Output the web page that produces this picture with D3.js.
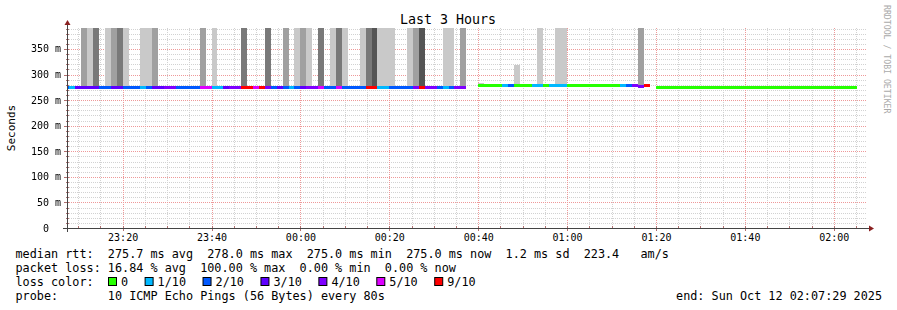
<!DOCTYPE html>
<html>
<head>
<meta charset="utf-8">
<script src="https://cdn.jsdelivr.net/npm/d3@7"></script>
<style>
  html, body { margin: 0; padding: 0; background: #fff; }
  svg { display: block; font-family: "DejaVu Sans Mono", monospace; }
  text { white-space: pre; }
</style>
</head>
<body>
<svg id="chart" width="897" height="310"></svg>
<script>
// time window of the graph, and the 80s steps of the rrd
const chartStart = "2025-10-11T23:07:29Z";
const chartEnd = "2025-10-12T02:07:29Z";
const firstStep = "2025-10-11T23:06:40Z";
const stepSeconds = 80;

// lost pings out of 10 per step (10 = nothing came back)
const lossCount = [
  2, 1, 3, 3, 3, 3, 2, 2, 3, 3,
  2, 2, 2, 1, 2, 3, 3, 4, 4, 2,
  2, 2, 2, 5, 5, 1, 1, 3, 4, 4,
  9, 9, 5, 9, 4, 2, 3, 2, 1, 2,
  3, 4, 4, 5, 2, 2, 5, 2, 2, 2,
  2, 9, 9, 1, 1, 2, 2, 2, 2, 4,
  9, 4, 4, 2, 1, 2, 4, 4, 10, 10,
  0, 0, 0, 0, 1, 2, 0, 0, 0, 1,
  1, 0, 1, 1, 1, 0, 0, 0, 0, 0,
  0, 0, 0, 0, 1, 2, 4, 4, 9, 10,
  0, 0, 0, 0, 0, 0, 0, 0, 0, 0,
  0, 0, 0, 0, 0, 0, 0, 0, 0, 0,
  0, 0, 0, 0, 0, 0, 0, 0, 0, 0,
  0, 0, 0, 0
];

// median rtt per step, ms
const medianMs = [
  275, 275, 275, 275, 275, 275, 275, 275, 275, 275,
  275, 275, 275, 275, 275, 275, 275, 275, 275, 275,
  275, 275, 275, 275, 275, 275, 275, 275, 275, 275,
  275, 275, 275, 275, 275, 275, 275, 275, 275, 275,
  275, 275, 275, 275, 275, 275, 275, 275, 275, 275,
  275, 275, 275, 275, 275, 275, 275, 275, 275, 275,
  275, 275, 275, 275, 275, 275, 275, 275, null, null,
  278, 278, 278, 278, 278, 278, 278, 278, 278, 278,
  278, 278, 278, 278, 278, 278, 278, 278, 278, 278,
  278, 278, 278, 278, 278, 278, 278, 277, 278, null,
  275, 275, 275, 275, 275, 275, 275, 275, 275, 275,
  275, 275, 275, 275, 275, 275, 275, 275, 275, 275,
  275, 275, 275, 275, 275, 275, 275, 275, 275, 275,
  275, 275, 275, 275
];

// top of the smoke per step, ms (runs off the top when large)
const smokeTopMs = [
  null, null, null, 420, 420, 420, null, 420, 420, 420,
  420, null, null, 420, 420, 420, null, null, null, null,
  null, null, null, 420, null, 420, null, null, null, null,
  420, null, null, null, 420, null, null, 420, null, 420,
  420, 420, null, 420, null, 420, 420, 420, null, null,
  420, 420, 420, 420, 420, 420, null, null, 420, 420,
  420, null, null, null, 420, 420, null, 420, null, null,
  283, null, null, null, null, null, 319, null, null, null,
  420, null, null, 420, 420, null, null, 282, null, null,
  null, null, null, null, null, null, null, 420, null, null,
  null, null, null, null, null, null, null, null, null, null,
  null, null, null, null, null, null, null, null, null, null,
  null, null, null, null, null, null, null, null, null, null,
  null, null, null, null
];

// smoke shade per step: 1 light .. 4 darkest
const smokeShade = [
  0, 0, 0, 2, 1, 3, 0, 1, 2, 3,
  1, 0, 0, 1, 1, 2, 0, 0, 0, 0,
  0, 0, 0, 2, 0, 1, 0, 0, 0, 0,
  3, 0, 0, 0, 3, 0, 0, 2, 0, 1,
  2, 1, 0, 3, 0, 1, 3, 1, 0, 0,
  1, 3, 4, 1, 1, 1, 0, 0, 1, 2,
  4, 0, 0, 0, 1, 1, 0, 2, 0, 0,
  1, 0, 0, 0, 0, 0, 1, 0, 0, 0,
  1, 0, 0, 1, 1, 0, 0, 1, 0, 0,
  0, 0, 0, 0, 0, 0, 0, 2, 0, 0,
  0, 0, 0, 0, 0, 0, 0, 0, 0, 0,
  0, 0, 0, 0, 0, 0, 0, 0, 0, 0,
  0, 0, 0, 0, 0, 0, 0, 0, 0, 0,
  0, 0, 0, 0
];
const shadeColors = [null, '#c9c9c9', '#a0a0a0', '#797979', '#555555'];

// loss legend
const lossThresholds = [0, 1, 2, 3, 4, 5, 9];
const lossLabels = ['0', '1/10', '2/10', '3/10', '4/10', '5/10', '9/10'];
const lossColors = ['#26ff00', '#00b8ff', '#0059ff', '#5e00ff', '#7e00ff', '#dd00ff', '#ff0000'];

// y ticks (ms) and their labels
const yMajorTicks = [0, 50, 100, 150, 200, 250, 300, 350];
const yTickLabels = ['0  ', '50 m', '100 m', '150 m', '200 m', '250 m', '300 m', '350 m'];

// legend text
const titleText = 'Last 3 Hours';
const yLabel = 'Seconds';
const rttLine = 'median rtt:  275.7 ms avg  278.0 ms max  275.0 ms min  275.0 ms now  1.2 ms sd  223.4   am/s';
const lossLine = 'packet loss: 16.84 % avg  100.00 % max  0.00 % min  0.00 % now';
const lossColorLabel = 'loss color:';
const probeLine = 'probe:       10 ICMP Echo Pings (56 Bytes) every 80s';
const endLine = 'end: Sun Oct 12 02:07:29 2025';
const watermark = 'RRDTOOL / TOBI OETIKER';

const svg = d3.select('#chart');
const plot = {left: 67, right: 867, top: 28, bottom: 228};

const x = d3.scaleUtc()
  .domain([new Date(chartStart), new Date(chartEnd)])
  .range([plot.left, plot.right]);
const y = d3.scaleLinear()
  .domain([0, 391])
  .range([plot.bottom, plot.top]);

let t0 = new Date(firstStep).getTime();
let steps = lossCount.map((loss, i) => ({
  start: new Date(t0 + i * stepSeconds * 1000),
  end: new Date(t0 + (i + 1) * stepSeconds * 1000),
  loss: loss,
  median: medianMs[i],
  smokeTop: smokeTopMs[i],
  shade: smokeShade[i]
}));

let lossColor = (loss) => {
  let idx = 0;
  lossThresholds.forEach((t, i) => { if (loss >= t) idx = i; });
  return lossColors[idx];
};

svg.append('rect').attr('width', 897).attr('height', 310).attr('fill', '#fff');

let defs = svg.append('defs');
defs.append('clipPath').attr('id', 'plotclip')
  .append('rect')
  .attr('x', plot.left + 1).attr('y', plot.top)
  .attr('width', plot.right - plot.left).attr('height', plot.bottom - plot.top);
// no-op filter: forces grey-scale text antialiasing
defs.append('filter').attr('id', 'flat')
  .append('feOffset').attr('dx', 0).attr('dy', 0);

// grid
let crisp = (v) => Math.round(v) + 0.5;
let grid = svg.append('g').attr('fill', 'none').attr('stroke-dasharray', '1,1');

grid.selectAll('.hmin')
  .data(d3.range(10, 391, 10).filter(v => v % 50 !== 0))
  .join('line')
  .attr('x1', plot.left).attr('x2', plot.right)
  .attr('y1', d => crisp(y(d))).attr('y2', d => crisp(y(d)))
  .attr('stroke', '#d2d2d2');

grid.selectAll('.vmin')
  .data(x.ticks(d3.utcMinute.every(5)).filter(d => d.getUTCMinutes() % 20 !== 0))
  .join('line')
  .attr('x1', d => crisp(x(d))).attr('x2', d => crisp(x(d)))
  .attr('y1', plot.top).attr('y2', plot.bottom)
  .attr('stroke', '#d2d2d2');

grid.selectAll('.hmaj')
  .data(yMajorTicks.filter(v => v > 0))
  .join('line')
  .attr('x1', plot.left).attr('x2', plot.right)
  .attr('y1', d => crisp(y(d))).attr('y2', d => crisp(y(d)))
  .attr('stroke', '#ee9999');

grid.selectAll('.vmaj')
  .data(x.ticks(d3.utcMinute.every(20)))
  .join('line')
  .attr('x1', d => crisp(x(d))).attr('x2', d => crisp(x(d)))
  .attr('y1', plot.top).attr('y2', plot.bottom)
  .attr('stroke', '#ee9999');

// smoke
svg.append('g')
  .attr('clip-path', 'url(#plotclip)')
  .selectAll('rect')
  .data(steps.filter(d => d.smokeTop !== null && d.median !== null))
  .join('rect')
  .attr('x', d => x(d.start))
  .attr('width', d => x(d.end) - x(d.start))
  .attr('y', d => y(d.smokeTop))
  .attr('height', d => y(d.median) - y(d.smokeTop))
  .attr('fill', d => shadeColors[d.shade])
  .attr('shape-rendering', 'crispEdges');

// median line coloured by loss
svg.append('g')
  .attr('clip-path', 'url(#plotclip)')
  .selectAll('line')
  .data(steps.filter(d => d.median !== null))
  .join('line')
  .attr('x1', d => x(d.start))
  .attr('x2', d => x(d.end))
  .attr('y1', d => y(d.median))
  .attr('y2', d => y(d.median))
  .attr('stroke', d => lossColor(d.loss))
  .attr('stroke-width', 3)
  .attr('shape-rendering', 'crispEdges');

// x axis labels
let xAxis = svg.append('g')
  .attr('transform', `translate(0,${plot.bottom})`)
  .call(d3.axisBottom(x)
    .ticks(d3.utcMinute.every(20))
    .tickFormat(d3.utcFormat('%H:%M'))
    .tickSizeInner(0).tickSizeOuter(0).tickPadding(6));
xAxis.select('.domain').remove();
xAxis.selectAll('line').remove();
xAxis.selectAll('text')
  .attr('font-family', '"DejaVu Sans Mono", monospace')
  .attr('font-size', 10).style('fill', '#000');

// y axis labels
svg.append('g')
  .attr('font-size', 10)
  .attr('text-anchor', 'end')
  .attr('filter', 'url(#flat)')
  .selectAll('text')
  .data(yMajorTicks)
  .join('text')
  .attr('x', plot.left - 6)
  .attr('y', d => y(d))
  .attr('dy', '0.35em')
  .style('fill', '#000')
  .text((d, i) => yTickLabels[i]);

// tick marks on the axis lines
let ticks = svg.append('g').attr('stroke', '#b07070').attr('stroke-width', 1);
ticks.selectAll('.ymt')
  .data(d3.range(10, 391, 10))
  .join('line')
  .attr('x1', d => d % 50 === 0 ? plot.left - 3 : plot.left - 1)
  .attr('x2', plot.left + 2)
  .attr('y1', d => crisp(y(d))).attr('y2', d => crisp(y(d)));
ticks.selectAll('.xmt')
  .data(x.ticks(d3.utcMinute.every(5)))
  .join('line')
  .attr('x1', d => crisp(x(d))).attr('x2', d => crisp(x(d)))
  .attr('y1', plot.bottom - 2)
  .attr('y2', d => d.getUTCMinutes() % 20 === 0 ? plot.bottom + 3 : plot.bottom + 1);

let axisColor = '#444';
svg.append('line')
  .attr('x1', plot.left - 4).attr('x2', plot.right + 2)
  .attr('y1', plot.bottom + 0.5).attr('y2', plot.bottom + 0.5)
  .attr('stroke', axisColor);
svg.append('line')
  .attr('x1', plot.left + 0.5).attr('x2', plot.left + 0.5)
  .attr('y1', plot.bottom + 4).attr('y2', plot.top - 4)
  .attr('stroke', axisColor);
svg.append('path')
  .attr('d', `M${plot.right + 2},${plot.bottom - 2.5}L${plot.right + 7},${plot.bottom + 0.5}L${plot.right + 2},${plot.bottom + 3.5}Z`)
  .attr('fill', '#8a2020');
svg.append('path')
  .attr('d', `M${plot.left - 2.5},${plot.top - 3}L${plot.left + 0.5},${plot.top - 8}L${plot.left + 3.5},${plot.top - 3}Z`)
  .attr('fill', '#8a2020');

// title & labels
svg.append('text')
  .attr('x', 448).attr('y', 24)
  .attr('text-anchor', 'middle')
  .attr('font-size', 13.3)
  .text(titleText);

svg.append('text')
  .attr('transform', 'translate(14.5,128) rotate(-90)')
  .attr('text-anchor', 'middle')
  .attr('font-size', 11)
  .text(yLabel);

svg.append('text')
  .attr('transform', 'translate(884,5) rotate(90)')
  .attr('font-size', 8.2)
  .attr('fill', '#aaa')
  .text(watermark);

// legend
let legend = svg.append('g').attr('font-size', 11.8).attr('fill', '#000');
let legendLeft = 15.5;
legend.append('text').attr('x', legendLeft).attr('y', 258).text(rttLine);
legend.append('text').attr('x', legendLeft).attr('y', 272).text(lossLine);
legend.append('text').attr('x', legendLeft).attr('y', 286).text(lossColorLabel);
legend.append('text').attr('x', legendLeft).attr('y', 300).text(probeLine);
legend.append('text').attr('x', 882).attr('y', 300).attr('text-anchor', 'end').text(endLine);

let lx = 108;
lossLabels.forEach((label, i) => {
  legend.append('rect')
    .attr('x', lx + 0.5).attr('y', 277.5)
    .attr('width', 8).attr('height', 8)
    .attr('fill', lossColors[i])
    .attr('stroke', '#000');
  let t = legend.append('text')
    .attr('x', lx + 13).attr('y', 286)
    .text(label);
  lx = lx + 13 + t.node().getComputedTextLength() + 16.5;
});
</script>
</body>
</html>
